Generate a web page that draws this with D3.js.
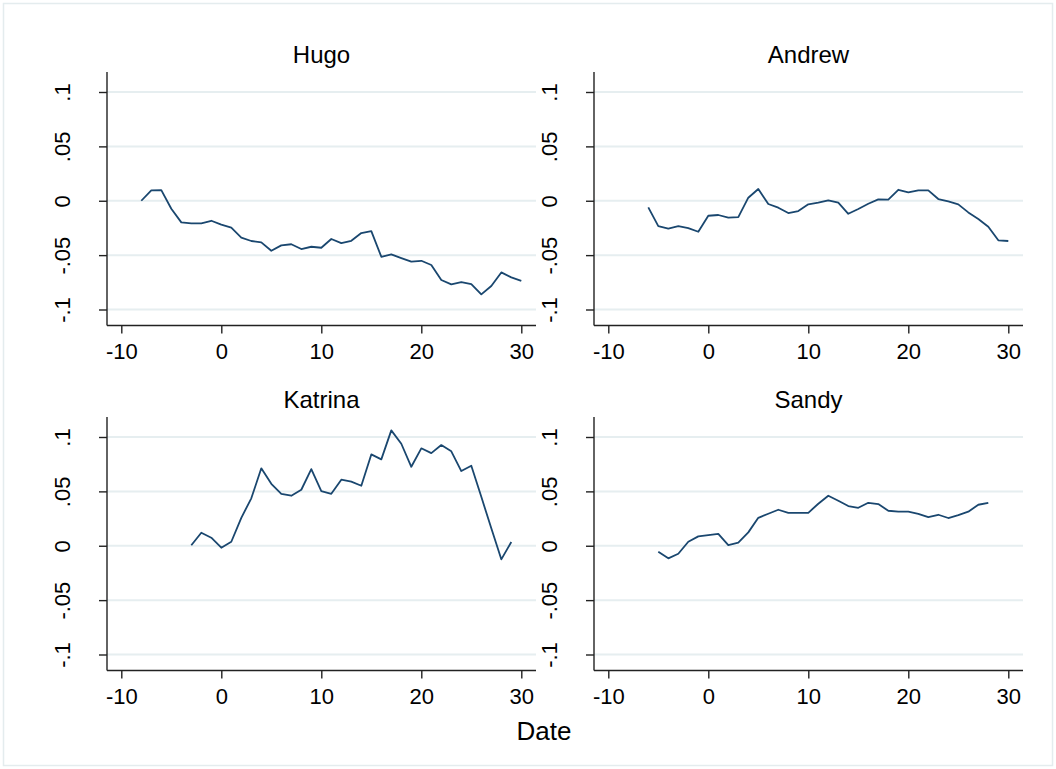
<!DOCTYPE html>
<html>
<head>
<meta charset="utf-8">
<script src="https://cdn.jsdelivr.net/npm/d3@7"></script>
<style>
  body { margin: 0; background: #ffffff; }
</style>
</head>
<body>
<script>
// chart data
var panelNames = ["Hugo", "Andrew", "Katrina", "Sandy"];

var hugoDates = [-8, -7, -6, -5, -4, -3, -2, -1, 0, 1, 2, 3, 4, 5, 6, 7, 8, 9, 10, 11, 12, 13, 14, 15, 16, 17, 18, 19, 20, 21, 22, 23, 24, 25, 26, 27, 28, 29, 30];
var hugoValues = [0, 0.0096, 0.0098, -0.0074, -0.0199, -0.0208, -0.0208, -0.0184, -0.022, -0.0248, -0.034, -0.037, -0.0383, -0.046, -0.041, -0.040, -0.0444, -0.0423, -0.0432, -0.0352, -0.039, -0.0368, -0.0297, -0.0279, -0.0515, -0.0493, -0.0527, -0.056, -0.0552, -0.0591, -0.0729, -0.0769, -0.0748, -0.0766, -0.0861, -0.0784, -0.0659, -0.0705, -0.0736];

var andrewDates = [-6, -5, -4, -3, -2, -1, 0, 1, 2, 3, 4, 5, 6, 7, 8, 9, 10, 11, 12, 13, 14, 15, 16, 17, 18, 19, 20, 21, 22, 23, 24, 25, 26, 27, 28, 29, 30];
var andrewValues = [-0.0061, -0.0233, -0.0257, -0.0233, -0.0251, -0.0285, -0.0138, -0.0131, -0.0156, -0.015, 0.0028, 0.0108, -0.003, -0.0064, -0.0113, -0.0095, -0.0033, -0.0018, 0.0004, -0.0018, -0.012, -0.0076, -0.0028, 0.0013, 0.001, 0.0101, 0.0077, 0.0096, 0.0096, 0.0016, -0.0006, -0.0033, -0.0107, -0.0168, -0.0239, -0.0364, -0.037];

var katrinaDates = [-3, -2, -1, 0, 1, 2, 3, 4, 5, 6, 7, 8, 9, 10, 11, 12, 13, 14, 15, 16, 17, 18, 19, 20, 21, 22, 23, 24, 25, 26, 27, 28, 29];
var katrinaValues = [0.0005, 0.012, 0.0074, -0.0018, 0.0037, 0.0257, 0.0436, 0.0712, 0.057, 0.0478, 0.046, 0.0515, 0.0705, 0.0503, 0.0478, 0.0607, 0.0589, 0.0552, 0.084, 0.0794, 0.1061, 0.0938, 0.0726, 0.0896, 0.0852, 0.0926, 0.0868, 0.0687, 0.0736, 0.045, 0.016, -0.0125, 0.0034];

var sandyDates = [-5, -4, -3, -2, -1, 0, 1, 2, 3, 4, 5, 6, 7, 8, 9, 10, 11, 12, 13, 14, 15, 16, 17, 18, 19, 20, 21, 22, 23, 24, 25, 26, 27, 28];
var sandyValues = [-0.0055, -0.0116, -0.0074, 0.0037, 0.0086, 0.0098, 0.011, 0.0006, 0.0028, 0.0123, 0.0257, 0.0294, 0.0331, 0.0303, 0.0303, 0.0303, 0.0386, 0.046, 0.0414, 0.0365, 0.0349, 0.0395, 0.0383, 0.0322, 0.0313, 0.0313, 0.0294, 0.0264, 0.0285, 0.0255, 0.0282, 0.0313, 0.0377, 0.0395];

var xTicks = [-10, 0, 10, 20, 30];
var yTicks = [-0.1, -0.05, 0, 0.05, 0.1];
var yTickLabels = ["-.1", "-.05", "0", ".05", ".1"];
var xTitle = "Date";

// Set up chart parameters
var svgWidth = 1056;
var svgHeight = 769;

var plotWidth = 429;
var plotHeight = 253.5;
var fontFamily = "Liberation Sans, Arial, sans-serif";

// top-left corner of each plot region
var panelPos = [
  {x: 107, y: 72},
  {x: 594, y: 72},
  {x: 107, y: 417},
  {x: 594, y: 417}
];

var panelData = [
  {dates: hugoDates, values: hugoValues},
  {dates: andrewDates, values: andrewValues},
  {dates: katrinaDates, values: katrinaValues},
  {dates: sandyDates, values: sandyValues}
];

var lineColor = "#1a476f";
var gridColor = "#e6eef0";
var axisColor = "#222";

var svg = d3
  .select("body")
  .append("svg")
  .attr("width", svgWidth)
  .attr("height", svgHeight);

// outer frame
svg.append("rect")
  .attr("x", 3.5)
  .attr("y", 3.5)
  .attr("width", svgWidth - 7)
  .attr("height", svgHeight - 7)
  .attr("fill", "#fff")
  .attr("stroke", "#e4ecee")
  .attr("stroke-width", 1.5);

// scales shared by all panels
var xLinearScale = d3.scaleLinear()
  .domain([-10, 30])
  .range([14.3, 414.3]);

var yLinearScale = d3.scaleLinear()
  .domain([-0.1, 0.1])
  .range([237.5, 20]);

panelNames.forEach(function(name, i) {
  var pos = panelPos[i];
  var data = panelData[i].dates.map(function(d, j) {
    return {date: d, value: panelData[i].values[j]};
  });

  var chartGroup = svg.append("g")
    .attr("transform", `translate(${pos.x}, ${pos.y})`);

  // gridlines
  chartGroup.selectAll(".grid")
    .data(yTicks)
    .enter()
    .append("line")
    .attr("x1", 0)
    .attr("x2", plotWidth)
    .attr("y1", d => yLinearScale(d))
    .attr("y2", d => yLinearScale(d))
    .attr("stroke", gridColor)
    .attr("stroke-width", 2);

  // x axis
  var bottomAxis = d3.axisBottom(xLinearScale)
    .tickValues(xTicks)
    .tickSize(8)
    .tickPadding(10)
    .tickSizeOuter(0)
    .tickFormat(d => String(d));

  var xAxis = chartGroup.append("g")
    .attr("transform", `translate(0, ${plotHeight})`)
    .call(bottomAxis);

  xAxis.select(".domain")
    .attr("d", `M0,0H${plotWidth}`)
    .attr("stroke", axisColor)
    .attr("stroke-width", 1.4);
  xAxis.selectAll(".tick line")
    .attr("stroke", axisColor)
    .attr("stroke-width", 1.4);
  xAxis.selectAll(".tick text")
    .attr("font-size", 22)
    .attr("font-family", fontFamily)
    .attr("dy", "0.71em")
    .attr("fill", "#000");

  // y axis
  var leftAxis = d3.axisLeft(yLinearScale)
    .tickValues(yTicks)
    .tickSize(8)
    .tickSizeOuter(0)
    .tickFormat((d, k) => yTickLabels[k]);

  var yAxis = chartGroup.append("g")
    .call(leftAxis);

  yAxis.select(".domain")
    .attr("d", `M0,0V${plotHeight}`)
    .attr("stroke", axisColor)
    .attr("stroke-width", 1.4);
  yAxis.selectAll(".tick line")
    .attr("stroke", axisColor)
    .attr("stroke-width", 1.4);
  // rotated tick labels, reading bottom to top
  yAxis.selectAll(".tick text")
    .attr("x", null)
    .attr("dy", null)
    .attr("text-anchor", "middle")
    .attr("font-size", 22)
    .attr("font-family", fontFamily)
    .attr("fill", "#000")
    .attr("transform", "translate(-37, 0) rotate(-90)");

  // the series
  var line = d3.line()
    .x(d => xLinearScale(d.date))
    .y(d => yLinearScale(d.value));

  chartGroup.append("path")
    .datum(data)
    .attr("d", line)
    .attr("fill", "none")
    .attr("stroke", lineColor)
    .attr("stroke-width", 1.8)
    .attr("stroke-linejoin", "round");

  // panel title
  chartGroup.append("text")
    .attr("x", plotWidth / 2)
    .attr("y", -9)
    .attr("text-anchor", "middle")
    .attr("font-family", fontFamily)
    .attr("font-size", 24)
    .text(name);
});

// x axis title
svg.append("text")
  .attr("x", 544)
  .attr("y", 740)
  .attr("text-anchor", "middle")
  .attr("font-family", fontFamily)
  .attr("font-size", 26)
  .text(xTitle);
</script>
</body>
</html>
